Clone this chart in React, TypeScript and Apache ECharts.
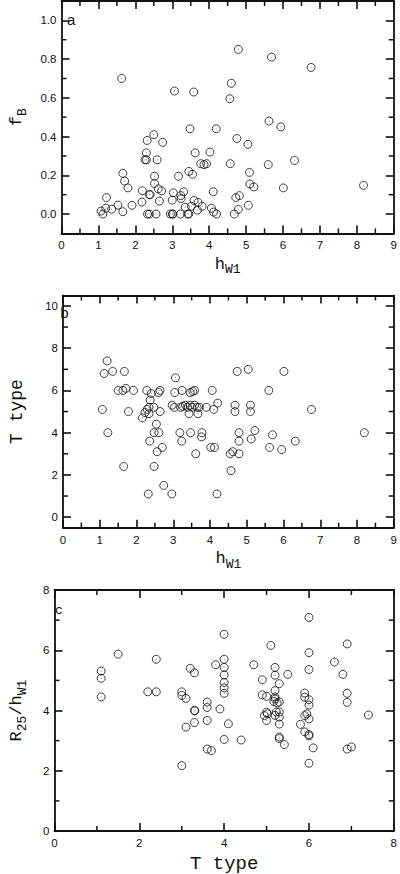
import React, { useEffect, useRef } from "react";
import * as echarts from "echarts";

// Panel a: h_W1 vs f_B
const hW1_fB: [number, number][] = [
  [1.63, 0.70], [3.06, 0.635], [3.58, 0.63], [4.79, 0.85], [4.60, 0.675], [4.56, 0.595],
  [5.69, 0.81], [6.76, 0.757], [3.48, 0.44], [4.19, 0.44], [5.62, 0.48], [5.94, 0.45],
  [4.75, 0.39], [2.50, 0.41], [2.32, 0.38], [2.74, 0.37], [5.05, 0.36], [2.30, 0.316],
  [2.26, 0.28], [2.30, 0.28], [2.59, 0.28], [3.62, 0.316], [4.02, 0.32], [3.77, 0.26],
  [3.86, 0.255], [3.93, 0.26], [4.57, 0.26], [1.66, 0.21], [1.71, 0.17], [1.80, 0.135],
  [2.52, 0.195], [2.52, 0.158], [2.62, 0.13], [2.71, 0.12], [2.38, 0.10], [2.40, 0.10],
  [2.19, 0.12], [2.18, 0.062], [2.65, 0.067], [3.17, 0.195], [3.45, 0.22], [3.55, 0.205],
  [4.11, 0.115], [3.03, 0.11], [3.31, 0.115], [3.23, 0.095], [3.24, 0.08], [3.00, 0.072],
  [1.22, 0.085], [1.07, 0.015], [1.12, 0.0], [1.20, 0.03], [1.36, 0.025], [1.53, 0.046],
  [1.66, 0.012], [1.91, 0.045], [2.33, 0], [2.38, 0], [2.56, 0], [2.95, 0], [3.0, 0],
  [3.02, 0], [3.22, 0], [3.42, 0], [3.45, 0], [4.2, 0], [4.68, 0], [3.35, 0.035],
  [3.52, 0.04], [3.59, 0.07], [3.70, 0.06], [3.68, 0.02], [3.81, 0.04], [4.06, 0.03],
  [4.12, 0.01], [4.72, 0.085], [4.82, 0.095], [4.79, 0.024], [5.09, 0.215], [5.10, 0.155],
  [5.21, 0.14], [5.06, 0.045], [5.6, 0.255], [6.01, 0.135], [6.31, 0.277], [8.18, 0.148],
];

// Panel b: h_W1 vs T type
const hW1_T: [number, number][] = [
  [1.20, 7.4], [1.12, 6.8], [1.35, 6.9], [1.67, 6.9], [1.07, 5.1], [1.50, 6.0], [1.63, 6.0],
  [1.71, 6.1], [1.92, 6.0], [1.78, 5.0], [2.28, 6.0], [2.40, 5.85], [2.37, 5.55], [2.60, 5.9],
  [2.64, 6.0], [2.16, 4.7], [2.23, 4.95], [2.29, 5.1], [2.34, 5.2], [2.34, 4.9], [2.47, 5.2],
  [2.64, 5.0], [2.54, 4.4], [3.06, 6.6], [3.04, 5.9], [3.24, 6.0], [3.46, 5.9], [3.53, 5.95],
  [3.58, 6.0], [4.06, 6.0], [2.97, 5.3], [3.03, 5.2], [3.20, 5.2], [3.26, 5.25], [3.33, 5.3],
  [3.39, 5.2], [3.46, 5.3], [3.51, 5.2], [3.58, 5.3], [3.65, 5.2], [3.71, 5.2], [3.43, 4.9],
  [3.67, 4.9], [3.90, 5.2], [4.10, 5.1], [4.21, 5.4], [4.74, 6.9], [5.04, 7.0], [6.01, 6.9],
  [5.60, 6.0], [4.68, 5.3], [4.68, 5.0], [5.10, 5.3], [5.10, 5.0], [6.76, 5.1], [1.22, 4.0],
  [1.65, 2.4], [2.48, 4.0], [2.61, 4.0], [2.36, 3.6], [2.56, 3.1], [2.70, 3.3], [2.48, 2.4],
  [2.74, 1.5], [2.32, 1.1], [2.96, 1.1], [3.18, 4.0], [3.23, 3.6], [3.47, 4.0], [3.61, 3.0],
  [3.78, 4.0], [3.77, 3.8], [4.02, 3.3], [4.12, 3.3], [4.19, 1.1], [4.55, 3.0], [4.62, 3.1],
  [4.57, 2.2], [4.79, 4.0], [4.79, 3.6], [4.79, 3.0], [5.12, 3.7], [5.22, 4.1], [5.70, 3.9],
  [5.62, 3.3], [5.95, 3.2], [6.32, 3.6], [8.20, 4.0],
];

// Panel c: T type vs R25/h_W1
const T_R25hW1: [number, number][] = [
  [1.1, 5.31], [1.1, 5.07], [1.1, 4.45], [1.5, 5.87], [2.2, 4.62], [2.4, 4.62], [2.4, 5.7],
  [3.0, 4.62], [3.0, 4.5], [3.1, 4.4], [3.2, 5.4], [3.3, 5.25], [3.3, 4.0], [3.31, 3.99],
  [3.6, 4.28], [3.6, 4.1], [3.6, 3.67], [3.8, 5.52], [3.9, 4.05], [4.0, 6.53], [4.0, 5.7],
  [4.0, 5.43], [4.0, 5.18], [4.0, 4.93], [4.0, 4.75], [4.0, 4.57], [3.1, 3.45], [3.3, 3.6],
  [4.1, 3.56], [4.0, 3.04], [4.4, 3.02], [3.6, 2.72], [3.7, 2.67], [3.0, 2.17], [4.7, 5.52],
  [4.9, 5.02], [4.9, 4.52], [5.0, 4.47], [5.1, 6.16], [5.2, 5.43], [5.2, 5.17], [5.3, 4.89],
  [5.2, 4.66], [5.2, 4.45], [5.2, 4.38], [5.17, 4.3], [5.25, 4.25], [5.3, 4.28], [5.0, 3.94],
  [5.02, 3.89], [4.95, 3.83], [5.2, 3.84], [5.23, 3.95], [5.3, 3.95], [5.3, 3.78], [5.0, 3.67],
  [5.3, 3.55], [5.3, 3.12], [5.3, 3.07], [5.42, 2.87], [5.5, 5.2], [5.9, 4.58], [5.9, 4.44],
  [6.0, 4.36], [6.0, 4.18], [5.9, 3.83], [5.95, 3.89], [6.0, 3.72], [5.8, 3.54], [5.9, 3.29],
  [6.0, 3.2], [6.0, 3.16], [6.1, 2.76], [6.0, 2.25], [6.0, 7.09], [6.0, 5.92], [6.0, 5.36],
  [6.6, 5.61], [6.8, 5.2], [6.9, 6.21], [6.9, 4.57], [6.9, 4.27], [6.9, 2.72], [7.0, 2.79],
  [7.4, 3.85],
];

// Ticks
const aXMajor = [0, 1, 2, 3, 4, 5, 6, 7, 8, 9];
const aXMinor = [0.5, 1.5, 2.5, 3.5, 4.5, 5.5, 6.5, 7.5, 8.5];
const aYMajor = [0, 0.2, 0.4, 0.6, 0.8, 1.0];
const aYMinor = [0.1, 0.3, 0.5, 0.7, 0.9];
const bXMajor = aXMajor;
const bXMinor = aXMinor;
const bYMajor = [0, 2, 4, 6, 8, 10];
const bYMinor = [1, 3, 5, 7, 9];
const cXMajor = [0, 2, 4, 6, 8];
const cXMinor = [1, 3, 5, 7];
const cYMajor = [0, 2, 4, 6, 8];
const cYMinor = [1, 3, 5, 7];

const INK = "#111111";
const MONO = "Liberation Mono";
const SANS = "Liberation Sans";

const rich = (main: number, sub: number) => ({
  n: { fontSize: main, fontFamily: MONO, color: INK, lineHeight: 24, verticalAlign: "middle" },
  s: { fontSize: sub, fontFamily: MONO, color: INK, lineHeight: 12, verticalAlign: "bottom" },
});

function axesFor(
  kind: "x" | "y",
  gi: number,
  min: number,
  max: number,
  major: number[],
  fmt: (v: number) => string,
  name: string,
  nameGap: number,
  nameStyle: any
) {
  const line = { show: true, onZero: false, lineStyle: { color: INK, width: 1.8 } };
  const tick = { show: true, inside: true, length: 8, customValues: major, lineStyle: { color: INK, width: 1.6 } };
  const base = { gridIndex: gi, type: "value", min, max, splitLine: { show: false } };
  return [
    {
      ...base,
      position: kind === "x" ? "bottom" : "left",
      axisLine: line,
      axisTick: tick,
      axisLabel: {
        show: true,
        customValues: major,
        formatter: fmt,
        fontFamily: SANS,
        fontSize: 11.5,
        color: INK,
        margin: kind === "x" ? 6 : 5,
      },
      name,
      nameLocation: "middle",
      nameGap,
      nameTextStyle: nameStyle,
    },
    {
      ...base,
      position: kind === "x" ? "top" : "right",
      axisLine: line,
      axisTick: tick,
      axisLabel: { show: false },
    },
  ];
}

const intFmt = (v: number) => String(Math.round(v));
const oneDec = (v: number) => v.toFixed(1);

// Short inward minor ticks on all four sides, placed through the axis scales
function minorTicks(
  idx: number,
  xr: [number, number],
  yr: [number, number],
  xMinor: number[],
  yMinor: number[]
) {
  const data = [...xMinor.map((v) => [v, yr[0], 0]), ...yMinor.map((v) => [xr[0], v, 1])];
  const len = 5;
  return {
    type: "custom",
    xAxisIndex: idx * 2,
    yAxisIndex: idx * 2,
    data,
    silent: true,
    encode: { x: 0, y: 1 },
    renderItem: (_params: any, api: any) => {
      const k = api.value(2);
      const style = { stroke: INK, lineWidth: 1.5 };
      if (k === 0) {
        const v = api.value(0);
        const b = api.coord([v, yr[0]]);
        const t = api.coord([v, yr[1]]);
        return {
          type: "group",
          children: [
            { type: "line", shape: { x1: b[0], y1: b[1], x2: b[0], y2: b[1] - len }, style },
            { type: "line", shape: { x1: t[0], y1: t[1], x2: t[0], y2: t[1] + len }, style },
          ],
        };
      }
      const v = api.value(1);
      const l = api.coord([xr[0], v]);
      const r = api.coord([xr[1], v]);
      return {
        type: "group",
        children: [
          { type: "line", shape: { x1: l[0], y1: l[1], x2: l[0] + len, y2: l[1] }, style },
          { type: "line", shape: { x1: r[0], y1: r[1], x2: r[0] - len, y2: r[1] }, style },
        ],
      };
    },
  };
}

function scatterPair(idx: number, data: [number, number][]) {
  return [
    {
      type: "scatter",
      xAxisIndex: idx * 2,
      yAxisIndex: idx * 2,
      data,
      symbol: "circle",
      symbolSize: 8,
      itemStyle: { color: "rgba(0,0,0,0)", borderColor: INK, borderWidth: 1 },
      silent: true,
    },
    {
      type: "scatter",
      xAxisIndex: idx * 2,
      yAxisIndex: idx * 2,
      data,
      symbol: "circle",
      symbolSize: 1.2,
      itemStyle: { color: "#888" },
      silent: true,
    },
  ];
}

export default function App() {
  const ref = useRef<HTMLDivElement>(null);
  useEffect(() => {
    const chart = echarts.init(ref.current!, null, { renderer: "svg" });
    const option: any = {
      animation: false,
      backgroundColor: "#fff",
      grid: [
        { left: 54.3, top: 1, width: 342.4, height: 232.4 },
        { left: 47.7, top: 295.4, width: 349, height: 232.3 },
        { left: 40.7, top: 590, width: 356, height: 243.3 },
      ],
      xAxis: [
        ...axesFor("x", 0, 0, 9, aXMajor, intFmt, "{n|h}{s|W1}", 19, { rich: rich(17, 13) }),
        ...axesFor("x", 1, 0, 9, bXMajor, intFmt, "{n|h}{s|W1}", 19, { rich: rich(17, 13) }),
        ...axesFor("x", 2, 0, 8, cXMajor, intFmt, "T type", 23, {
          fontFamily: MONO,
          fontSize: 19,
          color: INK,
        }),
      ],
      yAxis: [
        ...axesFor("y", 0, -0.1, 1.1, aYMajor, oneDec, "{n|f}{s|B}", 33, { rich: rich(17, 13) }),
        ...axesFor("y", 1, -0.5, 10.5, bYMajor, intFmt, "T type", 37, {
          fontFamily: MONO,
          fontSize: 18,
          color: INK,
        }),
        ...axesFor("y", 2, 0, 8, cYMajor, intFmt, "{n|R}{s|25}{n|/h}{s|W1}", 26, {
          rich: rich(17, 13),
        }),
      ],
      series: [
        ...scatterPair(0, hW1_fB),
        ...scatterPair(1, hW1_T),
        ...scatterPair(2, T_R25hW1),
        minorTicks(0, [0, 9], [-0.1, 1.1], aXMinor, aYMinor),
        minorTicks(1, [0, 9], [-0.5, 10.5], bXMinor, bYMinor),
        minorTicks(2, [0, 8], [0, 8], cXMinor, cYMinor),
      ],
      graphic: [
        { type: "text", x: 67, y: 19.6, style: { text: "a", font: `15px ${SANS}`, fill: INK, verticalAlign: "middle" } },
        { type: "text", x: 60, y: 314, style: { text: "b", font: `15px ${MONO}`, fill: INK, verticalAlign: "middle" } },
        { type: "text", x: 55, y: 610, style: { text: "c", font: `13px ${MONO}`, fill: INK, verticalAlign: "middle" } },
      ],
    };
    chart.setOption(option);
    return () => chart.dispose();
  }, []);
  return (
    <div
      ref={ref}
      style={{ position: "absolute", left: 0, top: 0, width: 400, height: 874, background: "#fff" }}
    />
  );
}
